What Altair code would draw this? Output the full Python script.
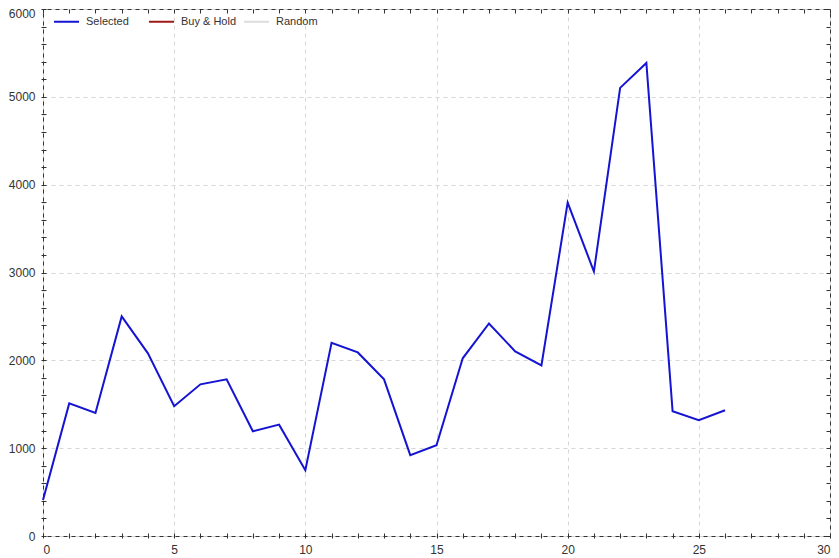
import altair as alt
import pandas as pd

x_vals = list(range(27))
selected = [410, 1510, 1400, 2500, 2080, 1477, 1727, 1784, 1193, 1268,
            750, 2200, 2090, 1784, 920, 1034, 2023, 2420, 2102, 1943,
            3795, 3011, 5102, 5386, 1420, 1318, 1432]
series_names = ["Selected", "Buy & Hold", "Random"]
series_colors = ["#1414d2", "#a01818", "#dcdcdc"]
x_ticks = list(range(0, 31))
y_ticks = list(range(0, 6001, 200))

df = pd.DataFrame({"x": x_vals, "y": selected, "series": ["Selected"] * len(x_vals)})

FONT = "Liberation Sans, Arial, sans-serif"

def cond(test, a, b):
    return {"condition": {"test": test, "value": a}, "value": b}

xscale = alt.Scale(domain=[0, 30], nice=False, zero=False)
yscale = alt.Scale(domain=[0, 6000], nice=False)

bottom_axis = alt.Axis(
    values=x_ticks, orient="bottom", title=None, domain=False, offset=-3,
    labelExpr="datum.value % 5 === 0 ? datum.label : ''", labelOverlap=False,
    grid=True, gridOpacity=cond("datum.value % 5 === 0", 1, 0),
    gridDash=[4, 4], gridColor="#d6d6d6",
    tickSize=5, tickColor="#333", labelPadding=6,
    labelFont=FONT, labelFontSize=12, labelColor="#333",
)
left_axis = alt.Axis(
    values=y_ticks, orient="left", title=None, domain=False, offset=-3,
    labelExpr="datum.value % 1000 === 0 ? datum.label : ''", labelOverlap=False,
    labelBaseline=cond("datum.value === 6000", "top", "middle"),
    labelOffset=cond("datum.value === 6000", -1, 0),
    grid=True, gridOpacity=cond("datum.value % 1000 === 0", 1, 0),
    gridDash=[4, 4], gridColor="#d6d6d6",
    tickSize=5, tickColor="#333", labelPadding=6, format="d",
    labelFont=FONT, labelFontSize=12, labelColor="#333",
)
top_axis = alt.Axis(
    values=x_ticks, orient="top", title=None, domain=False, offset=-4,
    labels=False, grid=False, tickSize=4, tickColor="#333",
)
right_axis = alt.Axis(
    values=y_ticks, orient="right", title=None, domain=False, offset=-4,
    labels=False, grid=False, tickSize=4, tickColor="#333",
)

main = alt.Chart(df).mark_line(strokeWidth=2).encode(
    x=alt.X("x:Q", scale=xscale, axis=bottom_axis),
    y=alt.Y("y:Q", scale=yscale, axis=left_axis),
    color=alt.Color(
        "series:N",
        scale=alt.Scale(domain=series_names, range=series_colors),
        legend=alt.Legend(
            title=None, orient="none", legendX=10, legendY=-1, direction="horizontal",
            symbolType="stroke", symbolSize=625, symbolStrokeWidth=2,
            labelFont=FONT, labelFontSize=11, labelColor="#333",
            gridAlign="all", columnPadding=3, labelOffset=6, padding=0,
        ),
    ),
)

frame = alt.Chart(df).mark_line(strokeOpacity=0).encode(
    x=alt.X("x:Q", scale=xscale, axis=top_axis),
    y=alt.Y("y:Q", scale=yscale, axis=right_axis),
)

chart = alt.layer(main, frame).properties(
    width=787, height=527,
    autosize=alt.AutoSizeParams(type="none"),
    padding={"left": 35, "top": 1, "right": 1, "bottom": 22},
    background="white",
).configure_view(stroke="#333", strokeWidth=1)

chart.save("out.html", embed_options={"renderer": "svg", "actions": False})
